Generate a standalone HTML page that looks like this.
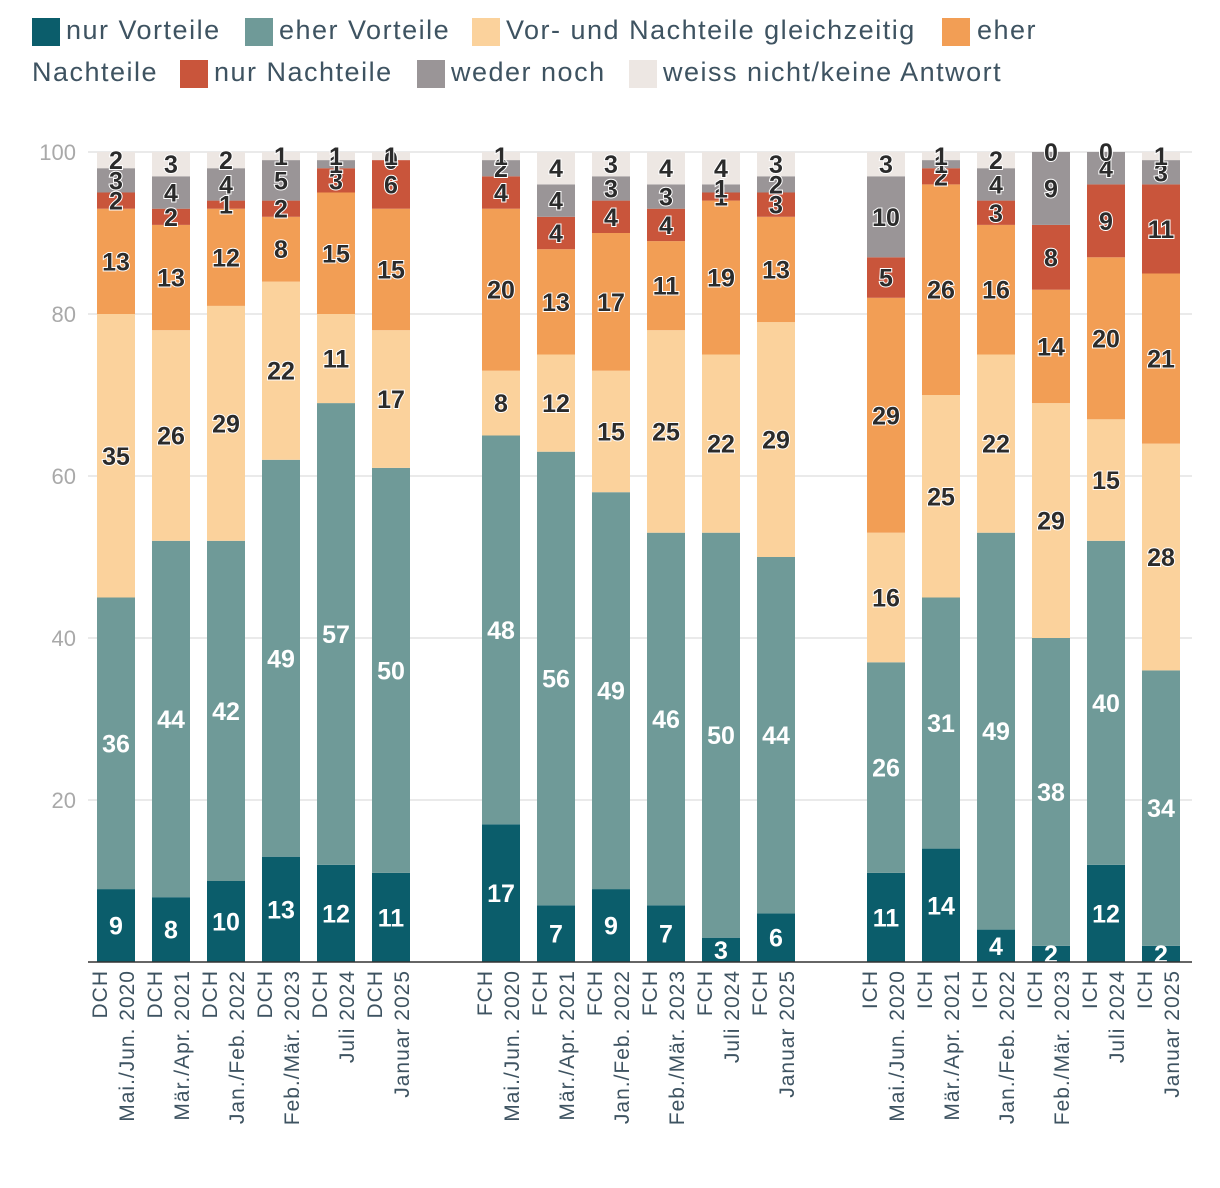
<!DOCTYPE html>
<html><head><meta charset="utf-8"><style>
body{margin:0;background:#fff;width:1220px;height:1188px;overflow:hidden;font-family:"Liberation Sans",sans-serif}
.leg{position:absolute;font-size:27px;color:#3e5361;white-space:nowrap;letter-spacing:1.5px}
.sw{position:absolute;width:28px;height:28px}
</style></head><body>
<div>
<div class="sw" style="left:32px;top:18px;background:#0b5d6b"></div><div class="leg" style="left:66px;top:15px">nur Vorteile</div>
<div class="sw" style="left:245px;top:18px;background:#6f9a98"></div><div class="leg" style="left:279px;top:15px">eher Vorteile</div>
<div class="sw" style="left:472px;top:18px;background:#fbd29c"></div><div class="leg" style="left:506px;top:15px">Vor- und Nachteile gleichzeitig</div>
<div class="sw" style="left:942px;top:18px;background:#f29e55"></div><div class="leg" style="left:977px;top:15px">eher</div>
<div class="leg" style="left:32px;top:57px">Nachteile</div>
<div class="sw" style="left:180px;top:60px;background:#c9553b"></div><div class="leg" style="left:214px;top:57px">nur Nachteile</div>
<div class="sw" style="left:417px;top:60px;background:#9a9597"></div><div class="leg" style="left:451px;top:57px">weder noch</div>
<div class="sw" style="left:629px;top:60px;background:#ede7e3"></div><div class="leg" style="left:663px;top:57px">weiss nicht/keine Antwort</div>
</div>
<svg id="chart" width="1220" height="1188" style="position:absolute;left:0;top:0"></svg>
<script>
const groups=["DCH","FCH","ICH"];
const periods=["Mai./Jun. 2020","Mär./Apr. 2021","Jan./Feb. 2022","Feb./Mär. 2023","Juli 2024","Januar 2025"];
const nurVorteile=[9,8,10,13,12,11, 17,7,9,7,3,6, 11,14,4,2,12,2];
const eherVorteile=[36,44,42,49,57,50, 48,56,49,46,50,44, 26,31,49,38,40,34];
const vorNachteile=[35,26,29,22,11,17, 8,12,15,25,22,29, 16,25,22,29,15,28];
const eherNachteile=[13,13,12,8,15,15, 20,13,17,11,19,13, 29,26,16,14,20,21];
const nurNachteile=[2,2,1,2,3,6, 4,4,4,4,1,3, 5,2,3,8,9,11];
const wederNoch=[3,4,4,5,1,0, 2,4,3,3,1,2, 10,1,4,9,4,3];
const weissNicht=[2,3,2,1,1,1, 1,4,3,4,4,3, 3,1,2,0,0,1];
const yTicks=[20,40,60,80,100];
const series=[nurVorteile,eherVorteile,vorNachteile,eherNachteile,nurNachteile,wederNoch,weissNicht];
const sNames=["nur-vorteile","eher-vorteile","vor-nachteile","eher-nachteile","nur-nachteile","weder-noch","weiss-nicht"];
const colors=["#0b5d6b","#6f9a98","#fbd29c","#f29e55","#c9553b","#9a9597","#ede7e3"];
const svg=document.getElementById('chart');const NS="http://www.w3.org/2000/svg";
const y0=962,y100=152;const yS=v=>y0-(y0-y100)*v/100;
const slotW=55,x0=88.5;
function xc(i){const g=Math.floor(i/6);return x0+slotW*(i+g)+slotW/2;}
function mk(t,a){const e=document.createElementNS(NS,t);for(const k in a)e.setAttribute(k,a[k]);svg.appendChild(e);return e;}
for(const t of yTicks){
 const g=mk('line',{x1:88,x2:1192,y1:yS(t),y2:yS(t),stroke:'#e4e4e4','stroke-width':1.5});
 
 const l=mk('text',{x:76,y:yS(t)+8,'text-anchor':'end','font-size':22,fill:'#a9a9a9'});l.textContent=t;
 
}
const bw=38;
for(let i=0;i<18;i++){
 const cx=xc(i);let cum=0;
 for(let s=0;s<7;s++){
  const v=series[s][i];const yt=yS(cum+v),yb=yS(cum);
  const r=mk('rect',{x:cx-bw/2,y:yt,width:bw,height:Math.max(0,yb-yt),fill:colors[s]});
  
  
  cum+=v;
 }
 cum=0;
 for(let s=0;s<7;s++){
  const v=series[s][i];const ym=(yS(cum)+yS(cum+v))/2;
  const dark=s<2;
  const t=mk('text',{x:cx,y:ym+9,'text-anchor':'middle','font-size':25,'font-weight':'bold',fill:dark?'#fff':'#2b2b2b',stroke:dark?'none':'#fff','stroke-width':dark?0:2,'paint-order':'stroke'});
  t.textContent=v;
  
  
  cum+=v;
 }
 const gl=mk('text',{x:0,y:0,'text-anchor':'end','font-size':21,'letter-spacing':1,fill:'#3e5361',transform:`translate(${cx-9},970) rotate(-90)`});
 gl.textContent=groups[Math.floor(i/6)];
 
 
 const pl=mk('text',{x:0,y:0,'text-anchor':'end','font-size':21,'letter-spacing':1,fill:'#3e5361',transform:`translate(${cx+18},970) rotate(-90)`});
 pl.textContent=periods[i%6];
 
 
}
const ax=mk('line',{x1:88,x2:1192,y1:y0,y2:y0,stroke:'#333','stroke-width':1.5});


</script>
</body></html>
